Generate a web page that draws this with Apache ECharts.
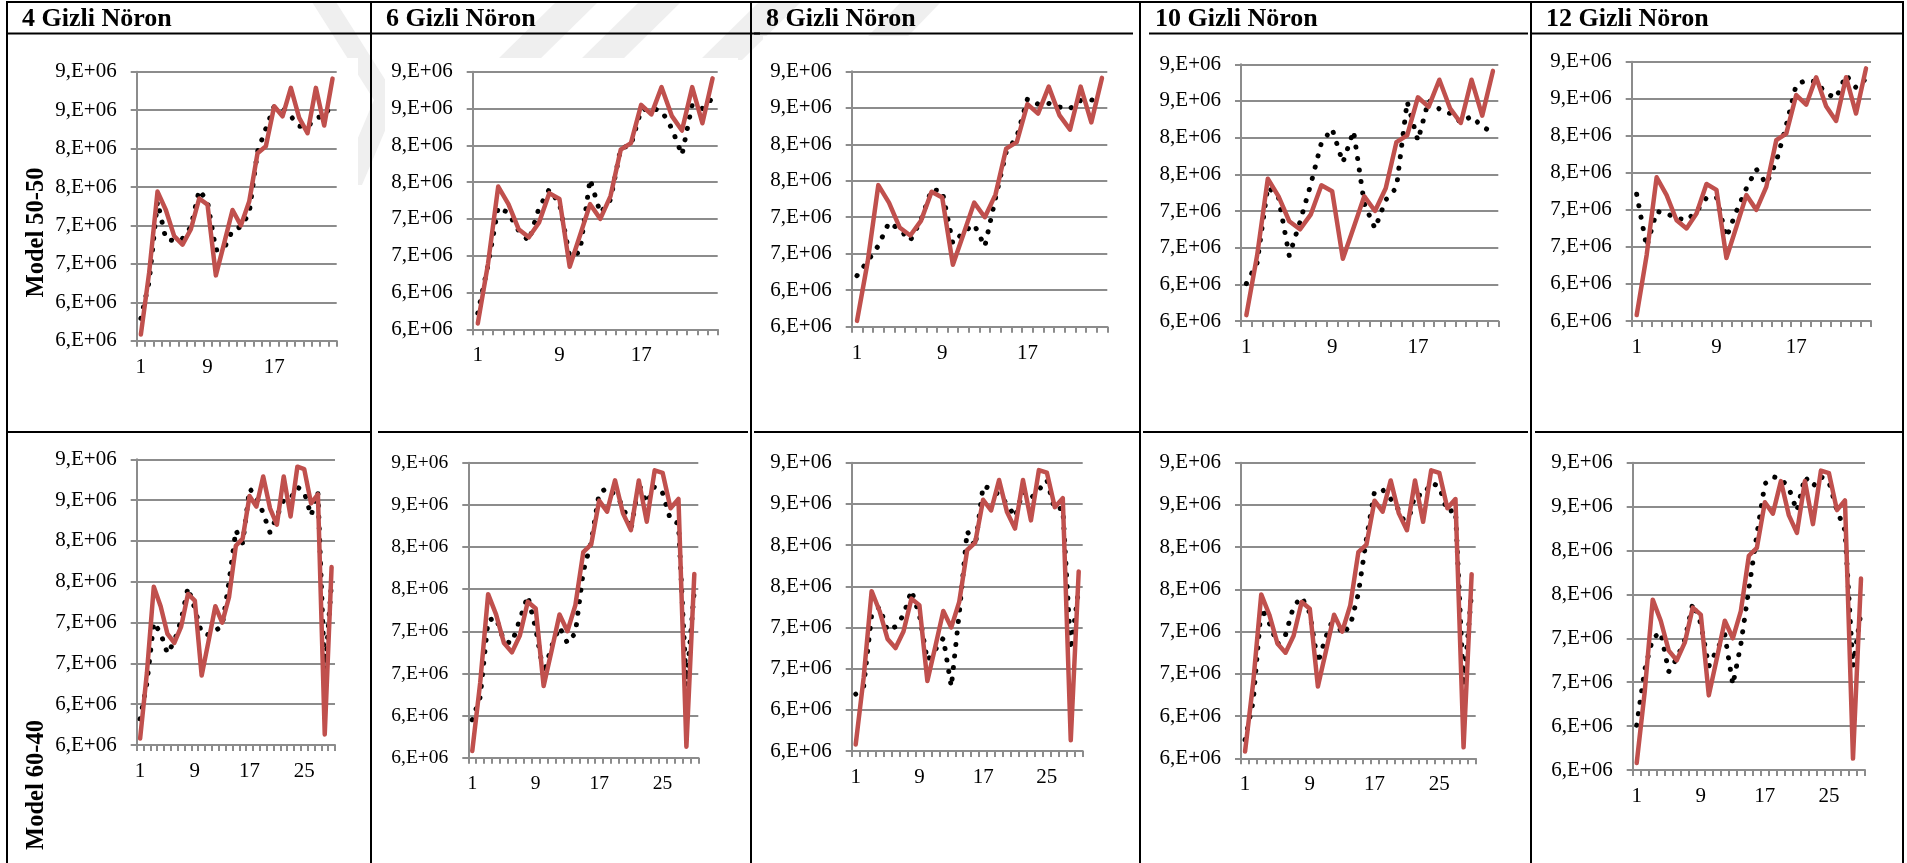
<!DOCTYPE html>
<html>
<head>
<meta charset="utf-8">
<script src="https://cdn.jsdelivr.net/npm/echarts@6/dist/echarts.min.js"></script>
<style>
  html, body { margin: 0; padding: 0; background: #ffffff; }
  #chart { width: 1907px; height: 863px; }
</style>
</head>
<body>
<div id="chart"></div>
<script>
// Time index (category labels) for the two train/test splits
const cats24 = ['1','2','3','4','5','6','7','8','9','10','11','12','13','14','15','16','17','18','19','20','21','22','23','24'];
const cats29 = ['1','2','3','4','5','6','7','8','9','10','11','12','13','14','15','16','17','18','19','20','21','22','23','24','25','26','27','28','29'];

// Value axis range
const yMin = 5.5e6;
const yMax = 9.0e6;
const yStep = 0.5e6;

// Column / row headings
const colTitles = ['4 Gizli Nöron', '6 Gizli Nöron', '8 Gizli Nöron', '10 Gizli Nöron', '12 Gizli Nöron'];
const rowTitles = ['Model 50-50', 'Model 60-40'];

// Observed series
const actual50 = [5.58e6, 6.39e6, 7.44e6, 7.20e6, 6.86e6, 6.75e6, 6.95e6, 7.35e6, 7.27e6, 6.35e6, 6.77e6, 7.20e6,
                  7.00e6, 7.31e6, 7.94e6, 8.03e6, 8.55e6, 8.42e6, 8.79e6, 8.40e6, 8.20e6, 8.79e6, 8.30e6, 8.91e6];
const actual60 = [5.58e6, 6.39e6, 7.44e6, 7.20e6, 6.86e6, 6.75e6, 6.95e6, 7.35e6, 7.27e6, 6.35e6, 6.77e6, 7.20e6,
                  7.00e6, 7.31e6, 7.94e6, 8.03e6, 8.55e6, 8.42e6, 8.79e6, 8.40e6, 8.20e6, 8.79e6, 8.30e6, 8.91e6,
                  8.88e6, 8.46e6, 8.57e6, 5.63e6, 7.68e6];

// Network outputs, 50-50 split
const pred50_4  = [5.79e6, 6.27e6, 7.31e6, 6.82e6, 6.80e6, 6.83e6, 6.98e6, 7.46e6, 7.31e6, 6.68e6, 6.70e6, 6.94e6,
                   6.98e6, 7.16e6, 7.96e6, 8.26e6, 8.55e6, 8.52e6, 8.42e6, 8.29e6, 8.28e6, 8.40e6, 8.42e6, 8.59e6];
const pred50_6  = [5.72e6, 6.37e6, 7.16e6, 7.08e6, 6.84e6, 6.70e6, 7.15e6, 7.40e6, 7.21e6, 6.49e6, 6.55e6, 7.54e6,
                   7.08e6, 7.26e6, 7.96e6, 8.00e6, 8.48e6, 8.50e6, 8.47e6, 8.23e6, 7.87e6, 8.55e6, 8.50e6, 8.64e6];
const pred50_8  = [6.20e6, 6.40e6, 6.61e6, 6.93e6, 6.83e6, 6.68e6, 6.96e6, 7.38e6, 7.36e6, 6.64e6, 6.80e6, 6.90e6,
                   6.60e6, 7.26e6, 7.89e6, 8.10e6, 8.62e6, 8.55e6, 8.56e6, 8.51e6, 8.49e6, 8.60e6, 8.61e6, 8.56e6];
const pred50_10 = [6.01e6, 6.29e6, 7.33e6, 7.18e6, 6.39e6, 6.85e6, 7.36e6, 7.93e6, 8.12e6, 7.66e6, 8.09e6, 7.10e6,
                   6.76e6, 7.15e6, 7.32e6, 8.49e6, 7.96e6, 8.51e6, 8.39e6, 8.33e6, 8.21e6, 8.29e6, 8.15e6, 8.07e6];
const pred50_12 = [7.21e6, 6.50e6, 6.98e6, 6.95e6, 6.89e6, 6.86e6, 6.98e6, 7.16e6, 7.17e6, 6.63e6, 6.98e6, 7.29e6,
                   7.55e6, 7.35e6, 7.65e6, 8.14e6, 8.69e6, 8.75e6, 8.73e6, 8.57e6, 8.51e6, 8.82e6, 8.65e6, 8.77e6];

// Network outputs, 60-40 split
const pred60_4  = [5.82e6, 6.26e6, 7.00e6, 6.87e6, 6.62e6, 6.77e6, 7.03e6, 7.43e6, 7.17e6, 6.87e6, 6.85e6, 6.90e6,
                   6.96e6, 7.50e6, 8.13e6, 7.97e6, 8.64e6, 8.55e6, 8.34e6, 8.10e6, 8.30e6, 8.50e6, 8.52e6, 8.66e6,
                   8.60e6, 8.31e6, 8.60e6, 6.35e6, 7.50e6];
const pred60_6  = [5.95e6, 6.22e6, 7.13e6, 7.16e6, 6.88e6, 6.86e6, 7.14e6, 7.42e6, 7.03e6, 6.50e6, 6.82e6, 7.05e6,
                   6.86e6, 6.98e6, 7.71e6, 8.06e6, 8.64e6, 8.70e6, 8.62e6, 8.49e6, 8.20e6, 8.75e6, 8.52e6, 8.72e6,
                   8.64e6, 8.32e6, 8.28e6, 6.35e6, 7.49e6];
const pred60_8  = [6.19e6, 6.28e6, 7.15e6, 7.25e6, 6.96e6, 7.01e6, 7.15e6, 7.45e6, 7.15e6, 6.60e6, 6.73e6, 6.87e6,
                   6.28e6, 7.17e6, 8.17e6, 7.98e6, 8.72e6, 8.68e6, 8.61e6, 8.50e6, 8.34e6, 8.65e6, 8.57e6, 8.67e6,
                   8.79e6, 8.43e6, 8.45e6, 6.73e6, 7.47e6];
const pred60_10 = [5.72e6, 6.17e6, 7.28e6, 7.10e6, 6.85e6, 6.96e6, 7.30e6, 7.41e6, 7.22e6, 6.63e6, 6.94e6, 7.18e6,
                   6.97e6, 7.07e6, 7.45e6, 8.10e6, 8.66e6, 8.68e6, 8.57e6, 8.44e6, 8.24e6, 8.62e6, 8.61e6, 8.76e6,
                   8.72e6, 8.42e6, 8.44e6, 6.35e6, 7.47e6];
const pred60_12 = [6.01e6, 6.64e6, 7.00e6, 7.07e6, 6.62e6, 6.77e6, 6.98e6, 7.40e6, 7.17e6, 6.68e6, 6.87e6, 7.04e6,
                   6.47e6, 6.93e6, 7.56e6, 8.18e6, 8.76e6, 8.84e6, 8.82e6, 8.71e6, 8.45e6, 8.84e6, 8.73e6, 8.84e6,
                   8.78e6, 8.46e6, 8.23e6, 6.68e6, 7.30e6];

// Plot rectangles [left, top, width, height] for each panel of the table
const panels = [
  { rect: [136.7, 71.7, 200.0, 269.0], cats: cats24, actual: actual50, pred: pred50_4,  fs: 21 },
  { rect: [472.7, 71.7, 245.0, 257.6], cats: cats24, actual: actual50, pred: pred50_6,  fs: 21 },
  { rect: [851.7, 71.3, 255.6, 255.4], cats: cats24, actual: actual50, pred: pred50_8,  fs: 21 },
  { rect: [1241.0, 64.3, 257.3, 256.7], cats: cats24, actual: actual50, pred: pred50_10, fs: 21 },
  { rect: [1631.7, 61.7, 239.3, 259.3], cats: cats24, actual: actual50, pred: pred50_12, fs: 21 },
  { rect: [136.7, 459.3, 198.3, 285.7], cats: cats29, actual: actual60, pred: pred60_4,  fs: 21 },
  { rect: [468.3, 462.7, 230.0, 295.0], cats: cats29, actual: actual60, pred: pred60_6,  fs: 19.5 },
  { rect: [851.7, 462.7, 231.0, 288.3], cats: cats29, actual: actual60, pred: pred60_8,  fs: 21 },
  { rect: [1241.0, 462.7, 234.7, 295.6], cats: cats29, actual: actual60, pred: pred60_10, fs: 21 },
  { rect: [1632.7, 462.7, 232.3, 307.3], cats: cats29, actual: actual60, pred: pred60_12, fs: 21 }
];

const AXIS_GRAY = '#8c8c8c';
const RED = '#C0504D';
const LABEL_FONT = '"Liberation Serif", "Times New Roman", serif';

const grids = [], xAxes = [], yAxes = [], series = [];
panels.forEach((p, i) => {
  grids.push({ left: p.rect[0], top: p.rect[1], width: p.rect[2], height: p.rect[3], containLabel: false });
  xAxes.push({
    type: 'category', gridIndex: i, data: p.cats, boundaryGap: true,
    axisLine: { show: true, lineStyle: { color: AXIS_GRAY, width: 2 } },
    axisTick: { show: true, interval: 0, length: 6, lineStyle: { color: AXIS_GRAY, width: 2 } },
    axisLabel: { interval: 7, margin: 16, color: '#000', fontFamily: LABEL_FONT, fontSize: p.fs, lineHeight: p.fs },
    splitLine: { show: false }
  });
  yAxes.push({
    type: 'value', gridIndex: i, min: yMin, max: yMax, interval: yStep,
    axisLine: { show: true, lineStyle: { color: AXIS_GRAY, width: 2 } },
    axisTick: { show: true, length: 6, lineStyle: { color: AXIS_GRAY, width: 2 } },
    axisLabel: {
      margin: 20, color: '#000', fontFamily: LABEL_FONT, fontSize: p.fs,
      formatter: v => Math.round(v / 1e6) + ',E+06'
    },
    splitLine: { show: true, lineStyle: { color: AXIS_GRAY, width: 2 } }
  });
  series.push({
    type: 'line', xAxisIndex: i, yAxisIndex: i, data: p.pred, symbol: 'none', z: 2,
    lineStyle: { color: '#000000', width: 5, type: [0.1, 11.5], cap: 'round', join: 'round' }
  });
  series.push({
    type: 'line', xAxisIndex: i, yAxisIndex: i, data: p.actual, symbol: 'none', z: 3,
    lineStyle: { color: RED, width: 4.5, cap: 'round', join: 'round' }
  });
});

// Table frame, headings and faint background mark
const colLeft = [7, 371, 751, 1140, 1531];
const graphics = [];
const WM = '#efefef';
const poly = pts => ({ type: 'polygon', z: -20, shape: { points: pts }, style: { fill: WM } });
graphics.push(poly([[312, 2], [336, 2], [398, 100], [362, 185], [338, 185], [374, 100]]));
[497, 580, 700].forEach(b => graphics.push(poly([[b, 60], [b + 42, 60], [b + 100, 3], [b + 58, 3]])));
graphics.push(poly([[845, 60], [885, 60], [940, 3], [900, 3]]));
// white chart backgrounds
[[8, 58, 350, 362], [385, 58, 353, 362], [763, 36, 370, 384]].forEach(r =>
  graphics.push({ type: 'rect', z: -10, shape: { x: r[0], y: r[1], width: r[2], height: r[3] }, style: { fill: '#ffffff' } }));

const hline = (x1, x2, y) => ({ type: 'line', z: 50, shape: { x1, y1: y, x2, y2: y }, style: { stroke: '#000', lineWidth: 2 } });
const vline = (x, y1, y2) => ({ type: 'line', z: 50, shape: { x1: x, y1, x2: x, y2 }, style: { stroke: '#000', lineWidth: 2 } });
graphics.push(hline(6, 1904, 2));
[[7, 371], [371, 760], [754, 1133], [1149, 1528], [1531, 1903]].forEach(s => graphics.push(hline(s[0], s[1], 33.5)));
[[7, 371], [378, 748], [754, 1140], [1143, 1528], [1535, 1903]].forEach(s => graphics.push(hline(s[0], s[1], 432)));
[7, 371, 751, 1140, 1531, 1903].forEach(x => graphics.push(vline(x, 1, 863)));

colTitles.forEach((t, i) => graphics.push({
  type: 'text', z: 60, x: colLeft[i] + 15, y: 19,
  style: { text: t, fill: '#000', font: 'bold 26px "Liberation Serif", "Times New Roman", serif',
           align: 'left', verticalAlign: 'middle', textAlign: 'left', textVerticalAlign: 'middle' }
}));
[[36.5, 232.5], [36.5, 785]].forEach((c, i) => graphics.push({
  type: 'text', z: 60, x: c[0], y: c[1], rotation: Math.PI / 2,
  style: { text: rowTitles[i], fill: '#000', font: 'bold 24.5px "Liberation Serif", "Times New Roman", serif',
           align: 'center', verticalAlign: 'middle', textAlign: 'center', textVerticalAlign: 'middle' }
}));

const chart = echarts.init(document.getElementById('chart'), null, { renderer: 'canvas' });
chart.setOption({
  animation: false,
  backgroundColor: '#ffffff',
  grid: grids,
  xAxis: xAxes,
  yAxis: yAxes,
  series: series,
  graphic: { elements: graphics }
});
</script>
</body>
</html>
